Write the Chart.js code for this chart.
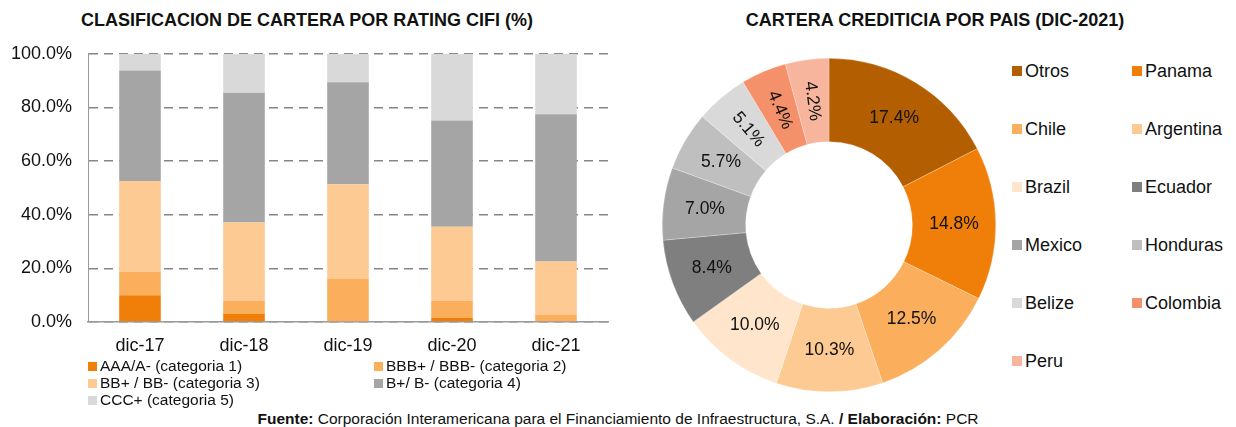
<!DOCTYPE html>
<html>
<head>
<meta charset="utf-8">
<script src="https://cdn.jsdelivr.net/npm/chart.js@4/dist/chart.umd.min.js"></script>
<style>
  html, body { margin: 0; padding: 0; background: #fff; }
  body { width: 1236px; height: 427px; position: relative; overflow: hidden;
         font-family: "Liberation Sans", Arial, sans-serif; color: #111; }
  .title { position: absolute; top: 10px; font-weight: bold; font-size: 18px; white-space: nowrap;
           transform: translateX(-50%); }
  #barBox { position: absolute; left: 0; top: 27px; width: 620px; height: 343px; }
  #pieBox { position: absolute; left: 660px; top: 56px; width: 338px; height: 338px; }
  .lg { position: absolute; white-space: nowrap; line-height: 1; }
  .lg i { display: inline-block; position: absolute; }
  #footer { position: absolute; top: 410px; left: 618px; transform: translateX(-50%);
            font-size: 15.5px; white-space: nowrap; }
</style>
</head>
<body>
<div class="title" style="left:307px">CLASIFICACION DE CARTERA POR RATING CIFI (%)</div>
<div class="title" style="left:935px">CARTERA CREDITICIA POR PAIS (DIC-2021)</div>
<div id="barBox"><canvas id="barChart"></canvas></div>
<div id="pieBox"><canvas id="pieChart"></canvas></div>
<div id="barLegend"></div>
<div id="pieLegend"></div>
<div id="footer"><b>Fuente:</b> Corporación Interamericana para el Financiamiento de Infraestructura, S.A. <b>/ Elaboración:</b> PCR</div>
<script>
// left chart: share of portfolio by rating
const years = ["dic-17", "dic-18", "dic-19", "dic-20", "dic-21"];
const ratingNames = ["AAA/A- (categoria 1)", "BBB+ / BBB- (categoria 2)", "BB+ / BB- (categoria 3)", "B+/ B- (categoria 4)", "CCC+ (categoria 5)"];
const cat1 = [10.0, 3.0, 0.0, 1.5, 0.0];
const cat2 = [8.6, 5.0, 16.0, 6.3, 2.8];
const cat3 = [34.0, 29.1, 35.4, 27.7, 19.8];
const cat4 = [41.2, 48.4, 38.0, 39.6, 54.9];
const cat5 = [6.2, 14.5, 10.6, 24.9, 22.5];
const yTicks = [0, 20, 40, 60, 80, 100];

// right chart: portfolio by country
const countries = ["Otros", "Panama", "Chile", "Argentina", "Brazil", "Ecuador", "Mexico", "Honduras", "Belize", "Colombia", "Peru"];
const shares = [17.4, 14.8, 12.5, 10.3, 10.0, 8.4, 7.0, 5.7, 5.1, 4.4, 4.2];

const FONT = "'Liberation Sans', Arial, sans-serif";
const ratingColors = ["#F07F09", "#FBAF5D", "#FDCA93", "#A5A5A5", "#D9D9D9"];
const countryColors = ["#B35E00", "#F07F09", "#FBAF5D", "#FDCA93", "#FEE5CB", "#7F7F7F",
                       "#A5A5A5", "#BFBFBF", "#D9D9D9", "#F4916A", "#F8B59D"];

const barData = {
  labels: years,
  datasets: [cat1, cat2, cat3, cat4, cat5].map((vals, i) => ({
    label: ratingNames[i],
    data: vals,
    backgroundColor: ratingColors[i],
    borderWidth: 0,
    barPercentage: 0.4,
    categoryPercentage: 1
  }))
};

const barChart = new Chart(document.getElementById("barChart"), {
  type: "bar",
  data: barData,
  options: {
    responsive: true,
    maintainAspectRatio: false,
    animation: false,
    layout: { padding: { top: 0, right: 12, bottom: 0, left: 0 } },
    plugins: { legend: { display: false }, tooltip: { enabled: false } },
    scales: {
      x: {
        stacked: true,
        grid: { display: false, drawTicks: false },
        border: { display: true, color: "#9a9a9a", width: 1.5 },
        ticks: { font: { family: FONT, size: 18 }, color: "#111", padding: 13 },
        afterFit: s => { s.height = 48; }
      },
      y: {
        stacked: true,
        min: 0,
        max: 100,
        afterBuildTicks: s => { s.ticks = yTicks.map(v => ({ value: v })); },
        grid: { color: "#858585", lineWidth: 1.5, drawTicks: false },
        border: { display: true, color: "#9a9a9a", width: 1, dash: [9, 6] },
        ticks: {
          font: { family: FONT, size: 18 }, color: "#111", padding: 16,
          callback: v => v.toFixed(1) + "%"
        },
        afterFit: s => { s.width = 88; }
      }
    }
  }
});

// slice labels, rotated along the radius when the slice is too narrow
const sliceLabels = {
  id: "sliceLabels",
  afterDatasetsDraw(chart) {
    const ctx = chart.ctx;
    const meta = chart.getDatasetMeta(0);
    ctx.save();
    ctx.font = "17.5px " + FONT;
    ctx.fillStyle = "#111";
    ctx.textAlign = "center";
    ctx.textBaseline = "middle";
    meta.data.forEach((arc, i) => {
      const p = arc.getProps(["x", "y", "startAngle", "endAngle", "innerRadius", "outerRadius"], true);
      const mid = (p.startAngle + p.endAngle) / 2;
      const r = (p.innerRadius + p.outerRadius) / 2;
      const text = chart.data.datasets[0].data[i].toFixed(1) + "%";
      const w = ctx.measureText(text).width;
      ctx.save();
      ctx.translate(p.x + Math.cos(mid) * r, p.y + Math.sin(mid) * r);
      if (w + 2 > (p.endAngle - p.startAngle) * r) ctx.rotate(mid - Math.PI);
      ctx.fillText(text, 0, 0);
      ctx.restore();
    });
    ctx.restore();
  }
};

const pieChart = new Chart(document.getElementById("pieChart"), {
  type: "doughnut",
  data: {
    labels: countries,
    datasets: [{ data: shares, backgroundColor: countryColors, borderColor: "rgba(255,255,255,0.5)", borderWidth: 0.5 }]
  },
  options: {
    responsive: true,
    maintainAspectRatio: false,
    animation: false,
    cutout: "50%",
    layout: { padding: 2 },
    plugins: { legend: { display: false }, tooltip: { enabled: false } }
  },
  plugins: [sliceLabels]
});

// html legends built from the chart data
function legendItem(parent, x, y, size, box, color, text) {
  const d = document.createElement("div");
  d.className = "lg";
  d.style.left = x + "px";
  d.style.top = (y - size / 2) + "px";
  d.style.fontSize = size + "px";
  d.style.paddingLeft = (box + 3) + "px";
  d.innerHTML = '<i style="left:0;top:' + ((size - box) / 2) + 'px;width:' + box + 'px;height:' + box +
    'px;background:' + color + '"></i>' + text;
  parent.appendChild(d);
}

const barLegend = document.getElementById("barLegend");
barData.datasets.forEach((ds, i) => {
  legendItem(barLegend, i % 2 ? 374 : 88, 366 + Math.floor(i / 2) * 17, 15.5, 9, ds.backgroundColor, ds.label);
});

const pieLegend = document.getElementById("pieLegend");
countries.forEach((c, i) => {
  legendItem(pieLegend, i % 2 ? 1132 : 1012, 71 + Math.floor(i / 2) * 58, 18, 10, countryColors[i], c);
});
</script>
</body>
</html>
